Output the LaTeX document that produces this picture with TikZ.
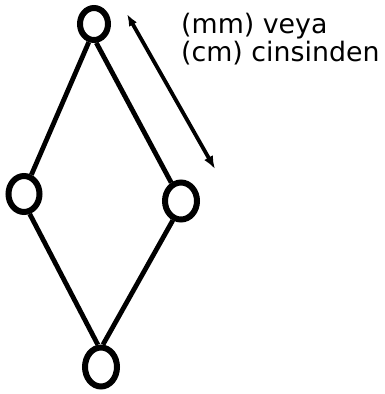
\documentclass[tikz,border=0pt]{standalone}
\usepackage{fontspec}
\setmainfont{DejaVu Sans}
\usetikzlibrary{shapes.geometric,arrows.meta}
\begin{document}
\begin{tikzpicture}[x=1pt,y=-1pt,
  ring/.style={draw=black,ellipse,line width=6pt,inner sep=0pt},
  edge/.style={line width=4.8pt,black},
  lbl/.style={anchor=base west,inner sep=0pt,font=\fontsize{26.8}{29}\selectfont}]
\useasboundingbox (0,0) rectangle (384,394);
\node[ring,minimum width=28pt,minimum height=32pt] (t) at (94,24) {};
\node[ring,minimum width=31pt,minimum height=36pt] (l) at (24,194) {};
\node[ring,minimum width=32pt,minimum height=37pt] (r) at (181,201) {};
\node[ring,minimum width=32pt,minimum height=39pt] (b) at (101,367) {};
\draw[edge] (t.254) -- (l.69);
\draw[edge] (t.277) -- (r.118);
\draw[edge] (l.286) -- (b.98);
\draw[edge] (r.247) -- (b.85);
\coordinate (a1) at (127,14);
\coordinate (a2) at (215,169);
\draw[line width=3.8pt,{Latex[length=12pt,width=9pt]}-{Latex[length=13pt,width=10pt]}] (a1) -- (a2);
\node[lbl] (m1) at (181,33) {(mm) veya};
\node[lbl] (m2) at (181,61) {(cm) cinsinden};
\end{tikzpicture}
\end{document}
